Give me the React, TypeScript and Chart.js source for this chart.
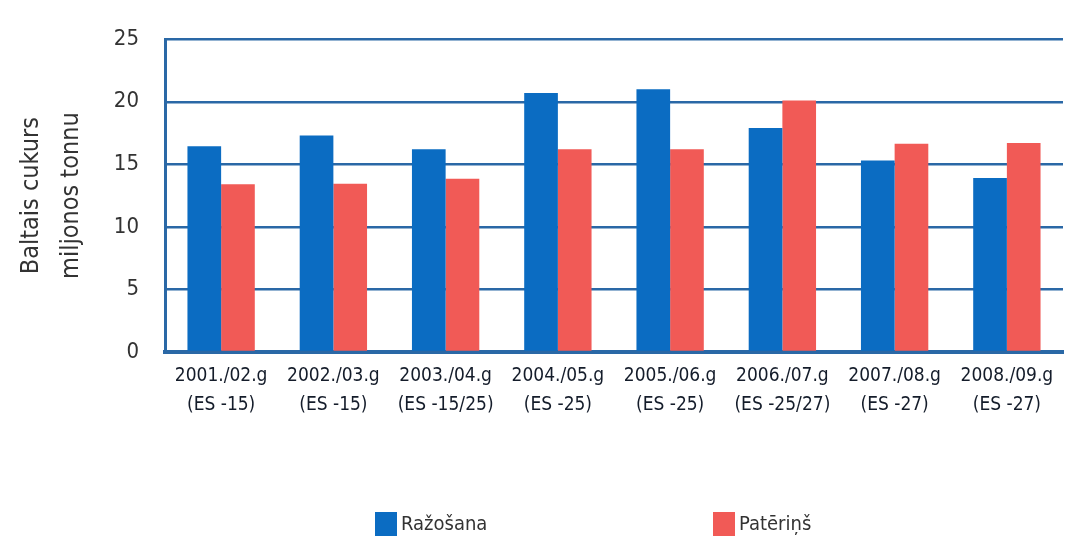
import React, { useEffect, useRef } from "react";
import { Chart, registerables } from "chart.js";

Chart.register(...registerables);

const categories: string[][] = [
  ["2001./02.g", "(ES -15)"],
  ["2002./03.g", "(ES -15)"],
  ["2003./04.g", "(ES -15/25)"],
  ["2004./05.g", "(ES -25)"],
  ["2005./06.g", "(ES -25)"],
  ["2006./07.g", "(ES -25/27)"],
  ["2007./08.g", "(ES -27)"],
  ["2008./09.g", "(ES -27)"],
];
const seriesNames = ["Ražošana", "Patēriņš"];
const production = [16.45, 17.3, 16.2, 20.7, 21.0, 17.9, 15.3, 13.9];
const consumption = [13.4, 13.45, 13.85, 16.2, 16.2, 20.1, 16.65, 16.7];
const yTitle = ["Baltais cukurs", "miljonos tonnu"];
const yTicks = [0, 5, 10, 15, 20, 25];

const BLUE = "#0b6cc2";
const RED = "#f15a56";
const GRID = "#2a68a6";
const FONT = "'DejaVu Sans Condensed', 'Liberation Sans Narrow', sans-serif";

const legendPlugin = {
  id: "customLegend",
  afterDraw(chart: any) {
    const ctx = chart.ctx;
    const xs = [375, 713];
    const y = 512;
    ctx.save();
    chart.data.datasets.forEach((ds: any, i: number) => {
      ctx.fillStyle = ds.backgroundColor;
      ctx.fillRect(xs[i], y, 22, 24);
      ctx.fillStyle = "#333";
      ctx.font = `20px ${FONT}`;
      ctx.textBaseline = "middle";
      ctx.textAlign = "left";
      ctx.fillText(ds.label, xs[i] + 26, y + 13);
    });
    ctx.restore();
  },
};

export default function App() {
  const ref = useRef<HTMLCanvasElement | null>(null);
  useEffect(() => {
    if (!ref.current) return;
    const chart = new Chart(ref.current, {
      type: "bar",
      data: {
        labels: categories,
        datasets: [
          { label: seriesNames[0], data: production, backgroundColor: BLUE, categoryPercentage: 0.6, barPercentage: 1.0 },
          { label: seriesNames[1], data: consumption, backgroundColor: RED, categoryPercentage: 0.6, barPercentage: 1.0 },
        ],
      },
      options: {
        animation: false,
        responsive: false,
        devicePixelRatio: 1,
        layout: { padding: { top: 35, right: 14, bottom: 109, left: 0 } },
        plugins: { legend: { display: false }, tooltip: { enabled: false } },
        scales: {
          x: {
            grid: { display: false, drawTicks: false },
            border: { display: true, color: GRID, width: 4 },
            ticks: { color: "#141c2a", font: { family: FONT, size: 19, lineHeight: 1.5 }, padding: 10, maxRotation: 0, autoSkip: false },
            afterFit(scale: any) { scale.height = 80; },
          },
          y: {
            min: 0,
            max: 25,
            afterBuildTicks(scale: any) { scale.ticks = yTicks.map((v) => ({ value: v })); },
            grid: { color: GRID, lineWidth: 2.5, drawTicks: false },
            border: { display: true, color: GRID, width: 3 },
            ticks: { color: "#333", font: { family: FONT, size: 22 }, padding: 26 },
            title: { display: true, text: yTitle, color: "#333", font: { family: FONT, size: 25, lineHeight: 1.62 }, padding: { top: 11, bottom: 0 } },
            afterFit(scale: any) { scale.width = 165; },
          },
        },
      },
      plugins: [legendPlugin],
    });
    return () => chart.destroy();
  }, []);
  return (
    <div style={{ position: "fixed", left: 0, top: 0, width: 1077, height: 541, background: "#fff" }}>
      <canvas ref={ref} width={1077} height={541} style={{ width: 1077, height: 541 }} />
    </div>
  );
}
